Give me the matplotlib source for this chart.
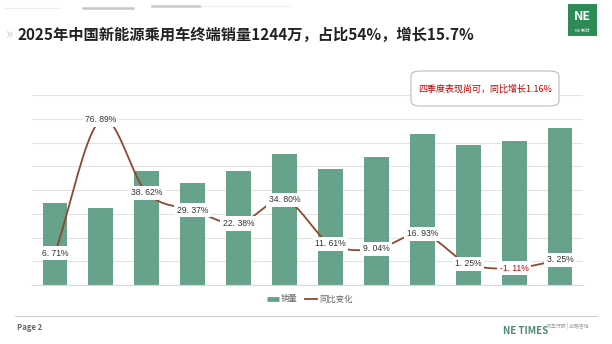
import numpy as np
import matplotlib
matplotlib.use("Agg")
import matplotlib.pyplot as plt
from matplotlib.patches import FancyBboxPatch, Rectangle
from matplotlib.lines import Line2D

plt.rcParams['font.family'] = ['Noto Sans CJK SC', 'DejaVu Sans']

months = ["1月", "2月", "3月", "4月", "5月", "6月", "7月", "8月", "9月", "10月", "11月", "12月"]
sales = [69, 65, 96, 86, 96, 110, 97.5, 108, 127.5, 117.5, 121, 132]
yoy = [6.71, 76.89, 38.62, 29.37, 22.38, 34.80, 11.61, 9.04, 16.93, 1.25, -1.11, 3.25]
yoy_labels = ["6. 71%", "76. 89%", "38. 62%", "29. 37%", "22. 38%", "34. 80%", "11. 61%",
              "9. 04%", "16. 93%", "1. 25%", "-1. 11%", "3. 25%"]
title = "2025年中国新能源乘用车终端销量1244万，占比54%，增长15.7%"
note = "四季度表现尚可，同比增长1.16%"
legend_labels = ["销量", "同比变化"]

W, H = 612, 344
fig = plt.figure(figsize=(W / 100, H / 100), dpi=100)
fig.patch.set_facecolor("white")

def fx(px):
    return px / W

def fy(py):
    return 1 - py / H

bar_color = "#67a38b"
line_color = "#8a4a2f"

ax = fig.add_axes([fx(32), fy(285), fx(583) - fx(32), fy(95) - fy(285)])
x = np.arange(len(months))
ax.bar(x, sales, width=0.54, color=bar_color, zorder=2)
ax.set_xlim(-0.5, len(months) - 0.5)
ax.set_ylim(0, 160)
ax.set_yticks(np.arange(0, 161, 20))
ax.grid(axis="y", color="#e3e3e3", linewidth=0.8, zorder=0)
ax.set_xticks([])
for s in ["top", "right", "left"]:
    ax.spines[s].set_visible(False)
ax.spines["bottom"].set_color("#d9d9d9")
ax.spines["bottom"].set_linewidth(0.8)

ax2 = ax.twinx()
ax2.set_ylim(-10, 90)
ax2.set_xlim(-0.5, len(months) - 0.5)
ax2.axis("off")
ax.tick_params(axis="y", left=False, right=False, labelleft=False, labelright=False)

# smooth curve through points (Catmull-Rom)
def smooth(xs, ys, n=20):
    xs = np.asarray(xs, float)
    ys = np.asarray(ys, float)
    px = np.concatenate([[2 * xs[0] - xs[1]], xs, [2 * xs[-1] - xs[-2]]])
    py = np.concatenate([[2 * ys[0] - ys[1]], ys, [2 * ys[-1] - ys[-2]]])
    outx, outy = [], []
    for i in range(1, len(px) - 2):
        t = np.linspace(0, 1, n, endpoint=False)
        for arr, out in ((px, outx), (py, outy)):
            p0, p1, p2, p3 = arr[i - 1], arr[i], arr[i + 1], arr[i + 2]
            out.extend(0.5 * ((2 * p1) + (-p0 + p2) * t + (2 * p0 - 5 * p1 + 4 * p2 - p3) * t ** 2
                              + (-p0 + 3 * p1 - 3 * p2 + p3) * t ** 3))
    outx.append(xs[-1]); outy.append(ys[-1])
    return np.array(outx), np.array(outy)

sx, sy = smooth(x, yoy)
ax2.plot(sx, sy, color=line_color, linewidth=1.3, zorder=3)

for xi, v, lab in zip(x, yoy, yoy_labels):
    c = "#c00000" if v < 0 else "#333333"
    ax2.text(xi, v, lab, ha="center", va="center", fontsize=6.2, color=c,
             family=["Liberation Sans", "DejaVu Sans"],
             bbox=dict(boxstyle="square,pad=0.3", fc="white", ec="none"), zorder=5)

# legend
leg_handles = [Line2D([0], [0], color=bar_color, linewidth=3.5, solid_capstyle="butt"),
               Line2D([0], [0], color=line_color, linewidth=1.3)]
fig.legend(leg_handles, legend_labels, loc="center", bbox_to_anchor=(fx(310), fy(299)),
           ncol=2, frameon=False, fontsize=6, labelcolor="#666666", handlelength=1.4,
           columnspacing=0.9, handletextpad=0.3)

# note box
nb = FancyBboxPatch((fx(411), fy(106)), fx(559) - fx(411), fy(71) - fy(106),
                    boxstyle="round,pad=0,rounding_size=0.015", transform=fig.transFigure,
                    fc="white", ec="#bbbbbb", lw=0.8)
fig.patches.append(nb)
fig.text(fx(485), fy(89), note, ha="center", va="center", fontsize=6.5, color="#c00000")

# title
fig.text(fx(5), fy(35), "»", ha="left", va="center", fontsize=11, color="#cccccc")
fig.text(fx(18), fy(35), title, ha="left", va="center", fontsize=11, fontweight="bold",
         color="#222222")

# top decorations
for (x0, x1, yy, c, lw) in [(5, 60, 8, "#eeeeee", 0.8), (83, 133, 8, "#c8c8c8", 1.8),
                            (152, 200, 6, "#c8c8c8", 1.8), (200, 290, 6, "#eeeeee", 0.8)]:
    fig.add_artist(Line2D([fx(x0), fx(x1)], [fy(yy), fy(yy)], color=c, lw=lw))

# logo
fig.patches.append(Rectangle((fx(568), fy(36)), fx(597) - fx(568), fy(4) - fy(36),
                             transform=fig.transFigure, fc="#2e8b57", ec="none"))
fig.text(fx(582.5), fy(17), "NE", ha="center", va="center", fontsize=9, fontweight="bold",
         color="white", style="italic")
fig.text(fx(582.5), fy(31), "NE 新时", ha="center", va="center", fontsize=3, color="white")

# footer
fig.add_artist(Line2D([fx(15), fx(597)], [fy(316), fy(316)], color="#d0d0d0", lw=0.8))
fig.text(fx(17), fy(327), "Page 2", ha="left", va="center", fontsize=5.5, color="#666666",
         fontweight="bold")
fig.text(fx(503), fy(331), "NE TIMES", ha="left", va="center", fontsize=7, color="#4d8a72",
         fontweight="bold")
fig.text(fx(546), fy(326), "汽车行研 | 战略咨询", ha="left", va="center", fontsize=3.5,
         color="#999999")

fig.savefig("out.png", dpi=100, facecolor="white")
